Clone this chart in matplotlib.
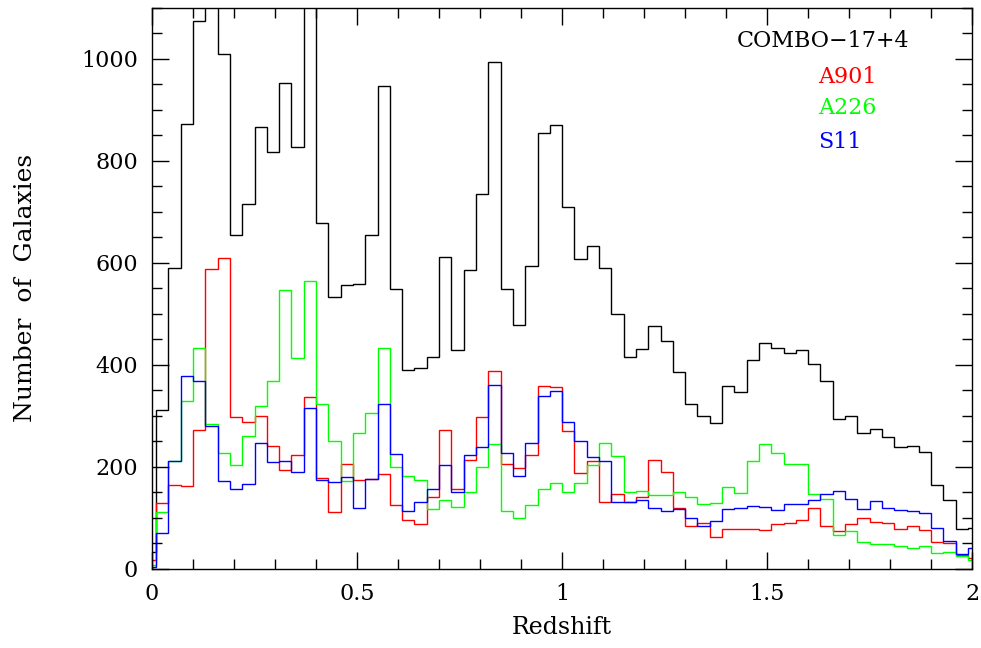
import numpy as np
import matplotlib
matplotlib.use("Agg")
import matplotlib.pyplot as plt

# redshift bins: width 0.03, first bin starts at z = -0.02
z_start = -0.02
bin_width = 0.03

# galaxy counts per bin
combo_all = [33, 311, 590, 873, 1075, 1160, 1009, 655, 716, 866, 818, 952, 828, 1230,
             679, 534, 557, 558, 655, 946, 549, 389, 393, 415, 611, 429, 586, 735,
             994, 548, 479, 594, 855, 870, 709, 607, 633, 590, 500, 415, 432, 476,
             447, 387, 324, 299, 286, 359, 347, 410, 442, 433, 423, 429, 402, 369,
             294, 300, 267, 274, 258, 239, 241, 229, 164, 135, 78, 80]
a901 = [17, 130, 164, 163, 273, 587, 610, 297, 288, 299, 241, 194, 224, 337,
        179, 112, 205, 174, 176, 187, 125, 96, 88, 142, 272, 156, 213, 297,
        388, 206, 198, 223, 359, 356, 271, 189, 211, 131, 147, 132, 142, 214,
        191, 119, 84, 90, 63, 79, 79, 78, 76, 89, 91, 96, 120, 85,
        74, 89, 99, 92, 91, 78, 84, 76, 52, 50, 27, 21]
a226 = [8, 112, 212, 330, 433, 284, 227, 204, 260, 320, 368, 546, 414, 565,
        324, 251, 172, 266, 305, 434, 200, 183, 174, 117, 136, 121, 150, 200,
        244, 114, 99, 125, 157, 168, 151, 169, 203, 246, 221, 151, 153, 144,
        144, 151, 141, 127, 130, 161, 149, 211, 245, 228, 206, 206, 146, 138,
        66, 74, 52, 49, 48, 44, 42, 44, 31, 33, 25, 18]
s11 = [4, 70, 212, 379, 369, 280, 173, 157, 166, 247, 209, 212, 190, 316,
       175, 170, 181, 120, 176, 324, 226, 114, 132, 157, 204, 151, 223, 239,
       361, 228, 183, 247, 339, 348, 288, 251, 219, 212, 132, 132, 136, 119,
       113, 117, 100, 84, 94, 117, 119, 123, 121, 116, 127, 127, 135, 147,
       153, 137, 117, 134, 119, 115, 114, 110, 80, 54, 29, 41]

series = [
    ("COMBO\u221217+4", combo_all, "black"),
    ("A901", a901, "#ff0000"),
    ("A226", a226, "#00ff00"),
    ("S11", s11, "#0000ff"),
]

edges = z_start + bin_width * np.arange(len(combo_all) + 1)

plt.rcParams["font.family"] = ["DejaVu Serif"]

fig = plt.figure(figsize=(9.81, 6.48), dpi=100)
ax = fig.add_axes([0.155, 0.122, 0.836, 0.866])

for name, counts, col in series:
    ax.stairs(counts, edges, color=col, linewidth=1.0, baseline=None)

ax.set_xlim(0, 2)
ax.set_ylim(0, 1100)

ax.set_xticks([0, 0.5, 1, 1.5, 2])
ax.set_xticklabels(["0", "0.5", "1", "1.5", "2"])
ax.set_xticks(np.arange(0, 2.01, 0.1), minor=True)
ax.set_yticks([0, 200, 400, 600, 800, 1000])
ax.set_yticks(np.arange(0, 1101, 50), minor=True)

ax.tick_params(which="both", direction="in", top=True, right=True,
               width=1.0, labelsize=16, pad=10)
ax.tick_params(which="major", length=12)
ax.tick_params(which="minor", length=7)
for sp in ax.spines.values():
    sp.set_linewidth(1.0)

ax.set_xlabel("Redshift", fontsize=17, labelpad=8)
ax.set_ylabel("Number  of  Galaxies", fontsize=18, labelpad=32)

# labels in the upper right corner
ax.text(0.713, 0.94, series[0][0], color="black", fontsize=16,
        transform=ax.transAxes, va="center", ha="left")
for (name, counts, col), ypos in zip(series[1:], [0.8775, 0.8217, 0.761]):
    ax.text(0.812, ypos, name, color=col, fontsize=16,
            transform=ax.transAxes, va="center", ha="left")

fig.savefig("out.png", dpi=100)
